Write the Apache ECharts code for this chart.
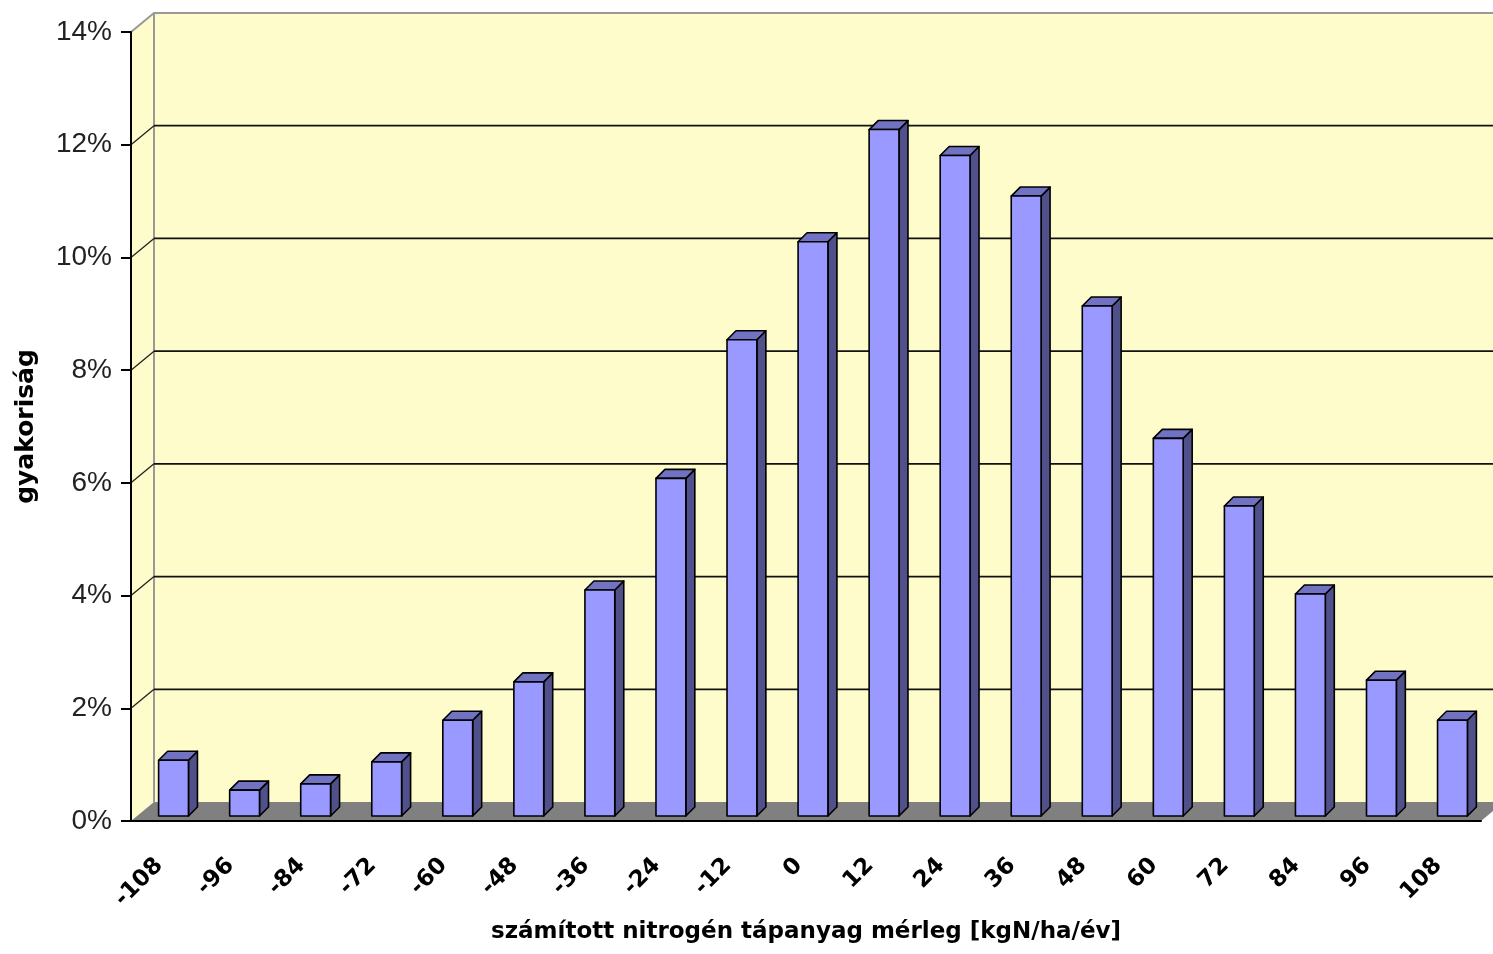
<!DOCTYPE html>
<html>
<head>
<meta charset="utf-8">
<script src="https://cdn.jsdelivr.net/npm/echarts@6/dist/echarts.min.js"></script>
<style>
  html, body { margin: 0; padding: 0; background: #fff; }
  #chart { width: 1493px; height: 954px; }
</style>
</head>
<body>
<div id="chart"></div>
<script>
// kategóriák (x tengely)
const categories = ['-108', '-96', '-84', '-72', '-60', '-48', '-36', '-24', '-12', '0',
  '12', '24', '36', '48', '60', '72', '84', '96', '108'];
// gyakoriság %-ban
const values = [0.99, 0.46, 0.57, 0.96, 1.70, 2.38, 4.01, 5.99, 8.45, 10.19,
  12.18, 11.72, 11.00, 9.05, 6.70, 5.50, 3.94, 2.41, 1.70];
// y tengely osztásai
const yTicks = [0, 2, 4, 6, 8, 10, 12, 14];

const DX = 23, DY = -19;   // térhatás: hátfal eltolása
const BDX = 9, BDY = -9;   // oszlop mélysége

const chart = echarts.init(document.getElementById('chart'));

function renderWalls(params, api) {
  const cs = params.coordSys;
  const x0 = cs.x, y0 = cs.y, x1 = cs.x + cs.width, yb = cs.y + cs.height;
  const farRight = x1 + 200;
  return {
    type: 'group',
    children: [
      // hátfal
      { type: 'polygon', shape: { points: [[x0 + DX, y0 + DY], [farRight, y0 + DY], [farRight, yb + DY], [x0 + DX, yb + DY]] },
        style: { fill: '#FFFCCC' } },
      // bal oldalfal
      { type: 'polygon', shape: { points: [[x0, y0], [x0 + DX, y0 + DY], [x0 + DX, yb + DY], [x0, yb]] },
        style: { fill: '#FFFCCC' } },
      // felső szél
      { type: 'polyline', shape: { points: [[x0, y0], [x0 + DX, y0 + DY], [farRight, y0 + DY]] },
        style: { stroke: '#999', lineWidth: 2, fill: null } },
      { type: 'line', shape: { x1: x0 + DX, y1: y0 + DY, x2: x0 + DX, y2: yb + DY },
        style: { stroke: '#999', lineWidth: 2 } }
    ]
  };
}

function renderGridLine(params, api) {
  const cs = params.coordSys;
  const p = api.coord([0, api.value(1)]);
  const x = cs.x, y = p[1];
  return {
    type: 'group',
    children: [
      { type: 'line', shape: { x1: x, y1: y, x2: x + DX, y2: y + DY }, style: { stroke: '#222', lineWidth: 1.3 } },
      { type: 'line', shape: { x1: x + DX, y1: y + DY, x2: cs.x + cs.width + 200, y2: y + DY }, style: { stroke: '#111', lineWidth: 1.8 } }
    ]
  };
}

function renderFloor(params, api) {
  const cs = params.coordSys;
  const x0 = cs.x, x1 = cs.x + cs.width, yb = cs.y + cs.height;
  return {
    type: 'polygon',
    shape: { points: [[x0, yb], [x1, yb], [x1 + DX, yb + DY], [x0 + DX, yb + DY]] },
    style: { fill: '#808080' }
  };
}

function renderBar(params, api) {
  const i = api.value(0), v = api.value(1);
  const base = api.coord([i, 0]);
  const top = api.coord([i, v]);
  const w = api.size([1, 0])[0] * 0.42;
  const xl = base[0] - w / 2 + 7, xr = xl + w;
  const yb = base[1] - 5, yt = top[1] - 5;
  const line = { stroke: '#000', lineWidth: 1.6, lineJoin: 'round' };
  return {
    type: 'group',
    children: [
      { type: 'polygon', shape: { points: [[xr, yb], [xr + BDX, yb + BDY], [xr + BDX, yt + BDY], [xr, yt]] },
        style: Object.assign({ fill: '#50508A' }, line) },
      { type: 'polygon', shape: { points: [[xl, yt], [xl + BDX, yt + BDY], [xr + BDX, yt + BDY], [xr, yt]] },
        style: Object.assign({ fill: '#7272C2' }, line) },
      { type: 'rect', shape: { x: xl, y: yt, width: w, height: yb - yt },
        style: Object.assign({ fill: '#9999FF' }, line) }
    ]
  };
}

const option = {
  backgroundColor: '#fff',
  animation: false,
  grid: { left: 131, right: 12, top: 32, bottom: 133 },
  xAxis: {
    type: 'category',
    data: categories,
    boundaryGap: true,
    z: 10,
    name: 'számított nitrogén tápanyag mérleg [kgN/ha/év]',
    nameLocation: 'middle',
    nameGap: 100,
    nameTextStyle: { fontFamily: 'DejaVu Sans', fontWeight: 'bold', fontSize: 23, color: '#000' },
    axisLine: { lineStyle: { color: '#000', width: 2 } },
    axisTick: { length: 13, lineStyle: { color: '#000', width: 2 } },
    axisLabel: {
      rotate: 45, margin: 34, interval: 0,
      padding: [0, 10, 0, 0],
      fontFamily: 'DejaVu Sans', fontWeight: 'bold', fontSize: 23, color: '#000'
    },
    splitLine: { show: false }
  },
  yAxis: {
    type: 'value',
    min: 0, max: 14, interval: 2,
    z: 10,
    name: 'gyakoriság',
    nameLocation: 'middle',
    nameGap: 92,
    nameRotate: 90,
    nameTextStyle: { fontFamily: 'DejaVu Sans', fontWeight: 'bold', fontSize: 25, color: '#000' },
    axisLine: { show: true, lineStyle: { color: '#000', width: 2 } },
    axisTick: { show: true, length: 10, lineStyle: { color: '#000', width: 2 } },
    axisLabel: {
      formatter: '{value}%', margin: 19,
      fontFamily: 'Liberation Sans', fontSize: 28, color: '#222'
    },
    splitLine: { show: false }
  },
  series: [
    { type: 'custom', z: 1, silent: true, data: [[0, 0]], renderItem: renderWalls },
    { type: 'custom', z: 2, silent: true, data: yTicks.filter(t => t > 0 && t < 14).map(t => [0, t]), renderItem: renderGridLine },
    { type: 'custom', z: 3, silent: true, data: [[0, 0]], renderItem: renderFloor },
    { type: 'custom', z: 4, data: values.map((v, i) => [i, v]), renderItem: renderBar }
  ]
};

chart.setOption(option);
window.addEventListener('resize', () => chart.resize());
</script>
</body>
</html>
